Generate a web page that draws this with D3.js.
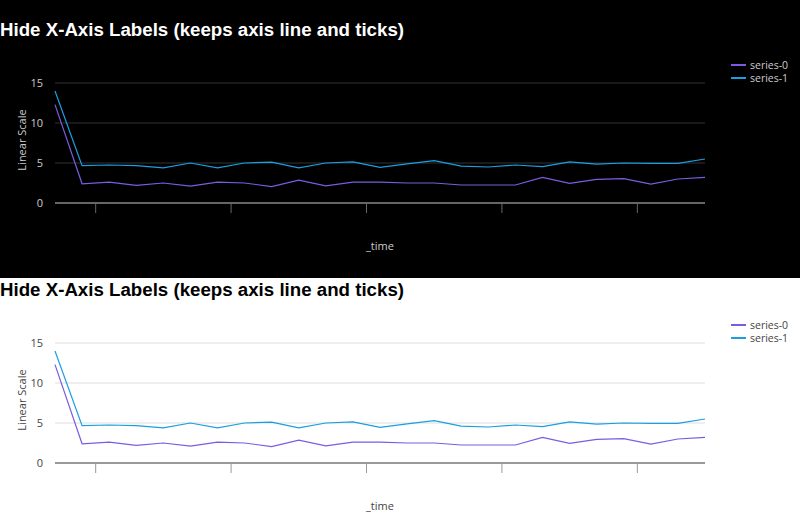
<!DOCTYPE html>
<html><head><meta charset="utf-8">
<script src="https://cdn.jsdelivr.net/npm/d3@7"></script>
<style>body{margin:0;background:#fff}svg{display:block}</style>
</head><body>
<svg id="chart" width="800" height="519"></svg>
<script>
const seriesNames = ['series-0', 'series-1'];
const series0 = [12.3, 2.4, 2.6, 2.2, 2.5, 2.1, 2.6, 2.5, 2.05, 2.85, 2.15, 2.6, 2.6, 2.5, 2.5, 2.25, 2.25, 2.25, 3.2, 2.45, 2.95, 3.05, 2.35, 3.0, 3.2];
const series1 = [14.0, 4.67, 4.75, 4.67, 4.4, 5.0, 4.4, 5.0, 5.1, 4.4, 5.0, 5.15, 4.45, 4.9, 5.3, 4.6, 4.5, 4.75, 4.55, 5.15, 4.85, 5.0, 4.95, 4.95, 5.5];
const yTicks = [0, 5, 10, 15];
const colors = ['#7b5ce0', '#1a9fe0'];
const start = new Date(2023, 0, 1, 23, 58, 31);
const times = series0.map((_, i) => new Date(+start + i * 60000));

const svg = d3.select('#chart');
const themes = [
  { y0: 0, bg: '#000', title: '#fff', text: '#ccc', grid: '#333', axis: '#666' },
  { y0: 260, bg: '#fff', title: '#000', text: '#444', grid: '#ddd', axis: '#999' }
];

themes.forEach((t, k) => {
  svg.append('rect').attr('x', 0).attr('y', k ? 278 : 0).attr('width', 800).attr('height', k ? 241 : 278).attr('fill', t.bg);
  const g = svg.append('g').attr('transform', `translate(0,${t.y0})`);
  g.append('text').attr('x', 0).attr('y', 36).attr('fill', t.title)
    .style('font', 'bold 18.7px "Liberation Sans", Arial, sans-serif')
    .text('Hide X-Axis Labels (keeps axis line and ticks)');

  const x = d3.scaleTime().domain(d3.extent(times)).range([55, 705]);
  const y = d3.scaleLinear().domain([0, 15]).range([203, 83]);

  g.append('g').selectAll('line').data(yTicks.filter(d => d > 0)).join('line')
    .attr('x1', 55).attr('x2', 705).attr('y1', d => y(d)).attr('y2', d => y(d))
    .attr('stroke', t.grid);
  g.append('g').selectAll('text').data(yTicks).join('text')
    .attr('x', 43).attr('y', d => y(d) + 4).attr('text-anchor', 'end')
    .attr('fill', t.text).style('font', '11px "Open Sans", sans-serif').text(d => d);

  const xAxis = d3.axisBottom(x).ticks(d3.timeMinute.every(5)).tickSize(10).tickFormat('');
  const ax = g.append('g').attr('transform', 'translate(0,203)').call(xAxis);
  ax.select('.domain').attr('stroke', t.axis).attr('stroke-width', 2).attr('d', 'M55,0H705');
  ax.selectAll('.tick line').attr('stroke', t.axis);

  g.append('text').attr('x', 380).attr('y', 250).attr('text-anchor', 'middle').attr('fill', t.text)
    .style('font', '11px "Open Sans", sans-serif').text('_time');
  g.append('text').attr('transform', 'translate(26,140) rotate(-90)').attr('text-anchor', 'middle')
    .attr('fill', t.text).style('font', '11px "Open Sans", sans-serif').text('Linear Scale');

  const line = d3.line().x((d, i) => x(times[i])).y(d => y(d));
  [series0, series1].forEach((s, i) => {
    g.append('path').datum(s).attr('d', line).attr('fill', 'none')
      .attr('stroke', colors[i]).attr('stroke-width', 1.2);
  });

  const lg = g.append('g').selectAll('g').data(seriesNames).join('g')
    .attr('transform', (d, i) => `translate(731,${65 + i * 13})`);
  lg.append('line').attr('x1', 0).attr('x2', 15).attr('stroke', (d, i) => colors[i]).attr('stroke-width', 2);
  lg.append('text').attr('x', 19).attr('y', 4).attr('fill', t.text)
    .style('font', '10.5px "Open Sans", sans-serif').text(d => d);
});
</script>
</body></html>
